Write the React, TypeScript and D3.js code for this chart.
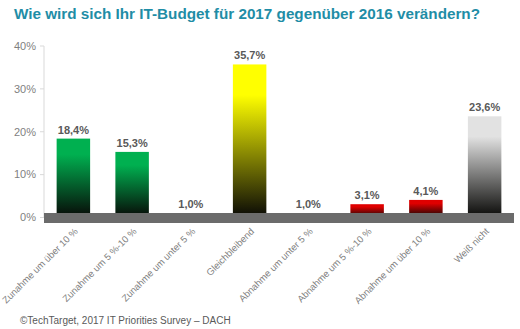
import React from "react";
import * as d3 from "d3";

const categories = [
  "Zunahme um über 10 %",
  "Zunahme um 5 %-10 %",
  "Zunahme um unter 5 %",
  "Gleichbleibend",
  "Abnahme um unter 5 %",
  "Abnahme um 5 %-10 %",
  "Abnahme um über 10 %",
  "Weiß nicht",
];
const values = [18.4, 15.3, 1.0, 35.7, 1.0, 3.1, 4.1, 23.6];
const colorGroups = ["green", "green", "green", "yellow", "red", "red", "red", "gray"];
const yTicks = [0, 10, 20, 30, 40];

const W = 520;
const H = 329;
const margin = { left: 44, right: 6, top: 46, bottom: 111 };

const gradients: Record<string, string> = {
  green: "#00b050",
  yellow: "#ffff00",
  red: "#e00000",
  gray: "#e2e2e2",
};

export default function App() {
  const x = d3
    .scaleBand<string>()
    .domain(categories)
    .range([margin.left, W - margin.right])
    .paddingInner(0.43)
    .paddingOuter(0.215);
  const y = d3.scaleLinear().domain([0, 40]).range([H - margin.bottom - 0.5, margin.top]);
  const fmt = (v: number) => v.toFixed(1).replace(".", ",") + "%";
  const font = "'Liberation Sans', Arial, sans-serif";

  return (
    <svg
      width={W}
      height={H}
      style={{ position: "absolute", left: 0, top: 0, background: "#fff" }}
      fontFamily={font}
    >
      <defs>
        {Object.entries(gradients).map(([k, c]) => (
          <linearGradient key={k} id={"g-" + k} x1="0" y1="0" x2="0" y2="1">
            <stop offset="0" stopColor={c} />
            <stop offset="0.2" stopColor={c} />
            <stop offset="1" stopColor="#080806" />
          </linearGradient>
        ))}
      </defs>
      <text x={14} y={19} fontSize={14} fontWeight="bold" fill="#1f8da6" textLength={466} lengthAdjust="spacingAndGlyphs">
        Wie wird sich Ihr IT-Budget für 2017 gegenüber 2016 verändern?
      </text>

      {/* y axis */}
      <line x1={44} x2={44} y1={y(40)} y2={y(0)} stroke="#d9d9d9" strokeWidth={1} />
      {yTicks.map((t) => (
        <g key={t}>
          <line x1={40} x2={44} y1={y(t)} y2={y(t)} stroke="#d9d9d9" />
          <text x={36} y={y(t)} dy="0.35em" textAnchor="end" fontSize={11} fill="#7f7f7f">
            {t}%
          </text>
        </g>
      ))}

      {/* bars */}
      {categories.map((c, i) => (
        <rect
          key={c}
          x={x(c)}
          y={y(values[i])}
          width={x.bandwidth()}
          height={y(0) - y(values[i])}
          fill={`url(#g-${colorGroups[i]})`}
        />
      ))}

      {/* floor */}
      <rect x={44} y={213} width={470} height={10} fill="#6b6b6b" />

      {/* value labels */}
      {categories.map((c, i) => (
        <text
          key={c}
          x={(x(c) as number) + x.bandwidth() / 2}
          y={y(values[i]) - 5}
          textAnchor="middle"
          fontSize={11}
          fontWeight="bold"
          fill="#595959"
        >
          {fmt(values[i])}
        </text>
      ))}

      {/* category labels */}
      {categories.map((c) => {
        const cx = (x(c) as number) + x.bandwidth() / 2 + 5;
        const cy = 232;
        return (
          <text
            key={c}
            transform={`translate(${cx},${cy}) rotate(-45)`}
            textAnchor="end"
            fontSize={9.5}
            fill="#7f7f7f"
          >
            {c}
          </text>
        );
      })}

      <text x={20} y={324} fontSize={10} fill="#595959">
        ©TechTarget, 2017 IT Priorities Survey – DACH
      </text>
    </svg>
  );
}
